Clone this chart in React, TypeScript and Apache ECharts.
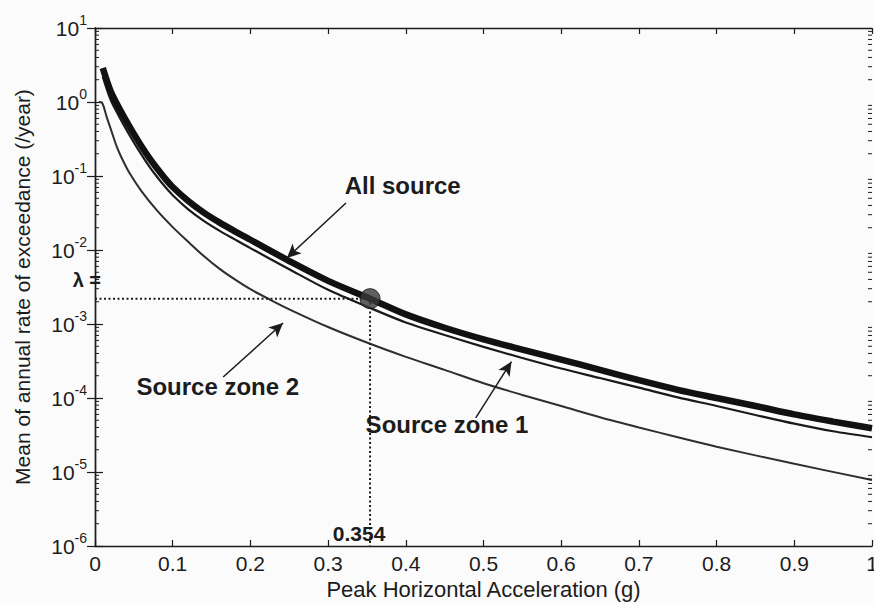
import React, { useEffect, useRef } from "react";
import * as echarts from "echarts";

// ---- data ----
const pgaX = [0.01, 0.02, 0.03, 0.04, 0.05, 0.06, 0.07, 0.08, 0.09, 0.1, 0.12, 0.14, 0.16, 0.18, 0.2, 0.25, 0.3, 0.354, 0.4, 0.45, 0.5, 0.55, 0.6, 0.65, 0.7, 0.75, 0.8, 0.85, 0.9, 0.95, 1.0];
const allSource = [2.88, 1.41, 0.87, 0.56, 0.37, 0.25, 0.174, 0.126, 0.093, 0.071, 0.0458, 0.032, 0.0236, 0.0179, 0.01375, 0.0071, 0.00383, 0.0022, 0.00135, 0.00089, 0.00062, 0.00045, 0.00033, 0.00024, 0.000174, 0.000129, 0.0001, 0.000078, 0.00006, 0.000048, 0.000039];
const sourceZone1 = [2.2, 1.08, 0.67, 0.43, 0.285, 0.193, 0.134, 0.097, 0.072, 0.055, 0.0355, 0.0248, 0.0183, 0.0139, 0.0106, 0.0055, 0.0029, 0.00165, 0.00105, 0.00071, 0.00049, 0.000347, 0.00025, 0.000186, 0.000138, 0.000102, 0.000078, 0.000059, 0.000045, 0.0000355, 0.0000295];
const zone2X = [0.005, 0.009, 0.015, 0.02, 0.028, 0.035, 0.045, 0.06, 0.08, 0.1, 0.12, 0.14, 0.16, 0.18, 0.2, 0.225, 0.25, 0.3, 0.354, 0.4, 0.45, 0.5, 0.55, 0.6, 0.65, 0.7, 0.75, 0.8, 0.9, 1.0];
const sourceZone2 = [1.0, 0.98, 0.63, 0.44, 0.25, 0.17, 0.107, 0.062, 0.034, 0.0204, 0.0129, 0.0083, 0.0056, 0.004, 0.00295, 0.00214, 0.00158, 0.00091, 0.00054, 0.00036, 0.00024, 0.000158, 0.00011, 0.000078, 0.000055, 0.00004, 0.0000295, 0.000022, 0.0000129, 0.0000078];

const designPGA = 0.354;
const lambdaValue = 0.0022;
const yMin = 1e-6;
const yMax = 10;

const curveNames = ["All source", "Source zone 1", "Source zone 2"];
const labelAnchors = [[0.396, 0.0733], [0.453, 4.45e-5], [0.158, 1.41e-4]];
const arrowFrom = [[0.323, 0.0432], [0.49, 5.4e-5], [0.165, 1.92e-4]];
const arrowTo = [[0.247, 0.0078], [0.536, 3.1e-4], [0.242, 1.03e-3]];

const minorTickValues: number[] = [];
for (let e = -6; e < 1; e++) {
  for (let m = 2; m <= 9; m++) minorTickValues.push(m * Math.pow(10, e));
}

const pair = (xs: number[], ys: number[]) => xs.map((x, i) => [x, ys[i]]);

export default function App() {
  const ref = useRef<HTMLDivElement>(null);
  useEffect(() => {
    const chart = echarts.init(ref.current!, null, { renderer: "svg" });
    const font = "'Liberation Sans', Arial, Helvetica, sans-serif";
    const ink = "#1c1c1c";
    const axisLine = { show: true, lineStyle: { color: ink, width: 1.4 } };
    const tickStyle = { color: ink, width: 1.2 };
    const xCommon: any = { type: "value", min: 0, max: 1, interval: 0.1, splitLine: { show: false } };
    const yCommon: any = { type: "log", logBase: 10, min: yMin, max: yMax, splitNumber: 7, splitLine: { show: false } };

    const textLabel = (text: string, coord: number[], extra: any = {}) => ({
      coord,
      value: text,
      symbol: "circle",
      symbolSize: 0,
      label: {
        show: true,
        formatter: text,
        position: "inside",
        color: ink,
        fontFamily: font,
        fontWeight: "bold",
        fontSize: 24,
        ...extra,
      },
    });

    chart.setOption({
      animation: false,
      backgroundColor: "#fbfbfb",
      grid: { left: 95, right: 2, top: 28, bottom: 58, containLabel: false, outerBoundsMode: "none" },
      xAxis: [
        {
          ...xCommon,
          position: "bottom",
          axisLine,
          axisTick: { inside: true, length: 6, lineStyle: tickStyle },
          axisLabel: { margin: 7, fontSize: 21, color: ink, fontFamily: font },
          name: "Peak Horizontal Acceleration (g)",
          nameLocation: "middle",
          nameGap: 31,
          nameTextStyle: { fontSize: 22, color: ink, fontFamily: font },
        },
        {
          ...xCommon,
          position: "top",
          axisLine,
          axisTick: { inside: true, length: 6, lineStyle: tickStyle },
          axisLabel: { show: false },
        },
      ],
      yAxis: [
        {
          ...yCommon,
          position: "left",
          axisLine,
          axisTick: { inside: true, length: 8, lineStyle: tickStyle },
          axisLabel: {
            margin: 8,
            formatter: (v: number) => `{b|10}{s|${Math.round(Math.log10(v))}}`,
            rich: {
              b: { fontSize: 21, fontFamily: font, color: ink, lineHeight: 30 },
              s: { fontSize: 14, fontFamily: font, color: ink, verticalAlign: "top", lineHeight: 16 },
            },
          },
          name: "Mean of annual rate of exceedance (/year)",
          nameLocation: "middle",
          nameGap: 62,
          nameTextStyle: { fontSize: 21, color: ink, fontFamily: font },
        },
        {
          ...yCommon,
          position: "right",
          axisLine,
          axisTick: { inside: true, length: 8, lineStyle: tickStyle },
          axisLabel: { show: false },
        },
      ],
      series: [
        {
          type: "custom",
          name: "minor ticks",
          xAxisIndex: 0,
          yAxisIndex: 0,
          silent: true,
          clip: false,
          z: 3,
          data: minorTickValues.map((v) => [0, v]),
          renderItem: (params: any, api: any) => {
            const y = api.coord([0, api.value(1)])[1];
            const cs = params.coordSys;
            return {
              type: "group",
              children: [
                { type: "line", shape: { x1: cs.x, y1: y, x2: cs.x + 4, y2: y }, style: { stroke: ink, lineWidth: 1 } },
                { type: "line", shape: { x1: cs.x + cs.width - 4, y1: y, x2: cs.x + cs.width, y2: y }, style: { stroke: ink, lineWidth: 1 } },
              ],
            };
          },
        },
        {
          type: "line",
          name: curveNames[2],
          data: pair(zone2X, sourceZone2),
          showSymbol: false,
          symbol: "none",
          smooth: 0.3,
          lineStyle: { color: "#2e2e2e", width: 2 },
          z: 2,
        },
        {
          type: "line",
          name: curveNames[1],
          data: pair(pgaX, sourceZone1),
          showSymbol: false,
          symbol: "none",
          smooth: 0.3,
          lineStyle: { color: "#1a1a1a", width: 2.2 },
          z: 3,
        },
        {
          type: "line",
          name: curveNames[0],
          data: pair(pgaX, allSource),
          showSymbol: false,
          symbol: "none",
          smooth: 0.3,
          lineStyle: { color: "#111", width: 6.5 },
          z: 4,
        },
        {
          type: "line",
          name: "design level",
          data: [[0, lambdaValue], [designPGA, lambdaValue], [designPGA, yMin]],
          showSymbol: false,
          symbol: "none",
          lineStyle: { color: ink, width: 2, type: [2, 2.5] },
          z: 5,
          markLine: {
            silent: true,
            symbol: ["none", "arrow"],
            symbolSize: [10, 14],
            label: { show: false },
            lineStyle: { color: ink, width: 1.5, type: "solid" },
            emphasis: { disabled: true },
            data: arrowFrom.map((f, i) => [{ coord: f }, { coord: arrowTo[i] }]),
          },
          markPoint: {
            silent: true,
            data: [
              ...curveNames.map((n, i) => textLabel(n, labelAnchors[i])),
              textLabel(String(designPGA), [designPGA, yMin], { fontSize: 21, verticalAlign: "bottom", align: "center", offset: [-11, -2] }),
              textLabel("λ =", [0, lambdaValue], { fontSize: 20, align: "right", verticalAlign: "middle", offset: [6, -19] }),
            ],
          },
        },
        {
          type: "scatter",
          name: "design point",
          data: [[designPGA, lambdaValue]],
          symbol: "circle",
          symbolSize: 20,
          itemStyle: { color: "#3a3a3a", borderColor: "#111", borderWidth: 1 },
          z: 6,
        },
      ],
    });
    return () => chart.dispose();
  }, []);
  return <div ref={ref} style={{ position: "fixed", left: 0, top: 0, width: 874, height: 604 }} />;
}
